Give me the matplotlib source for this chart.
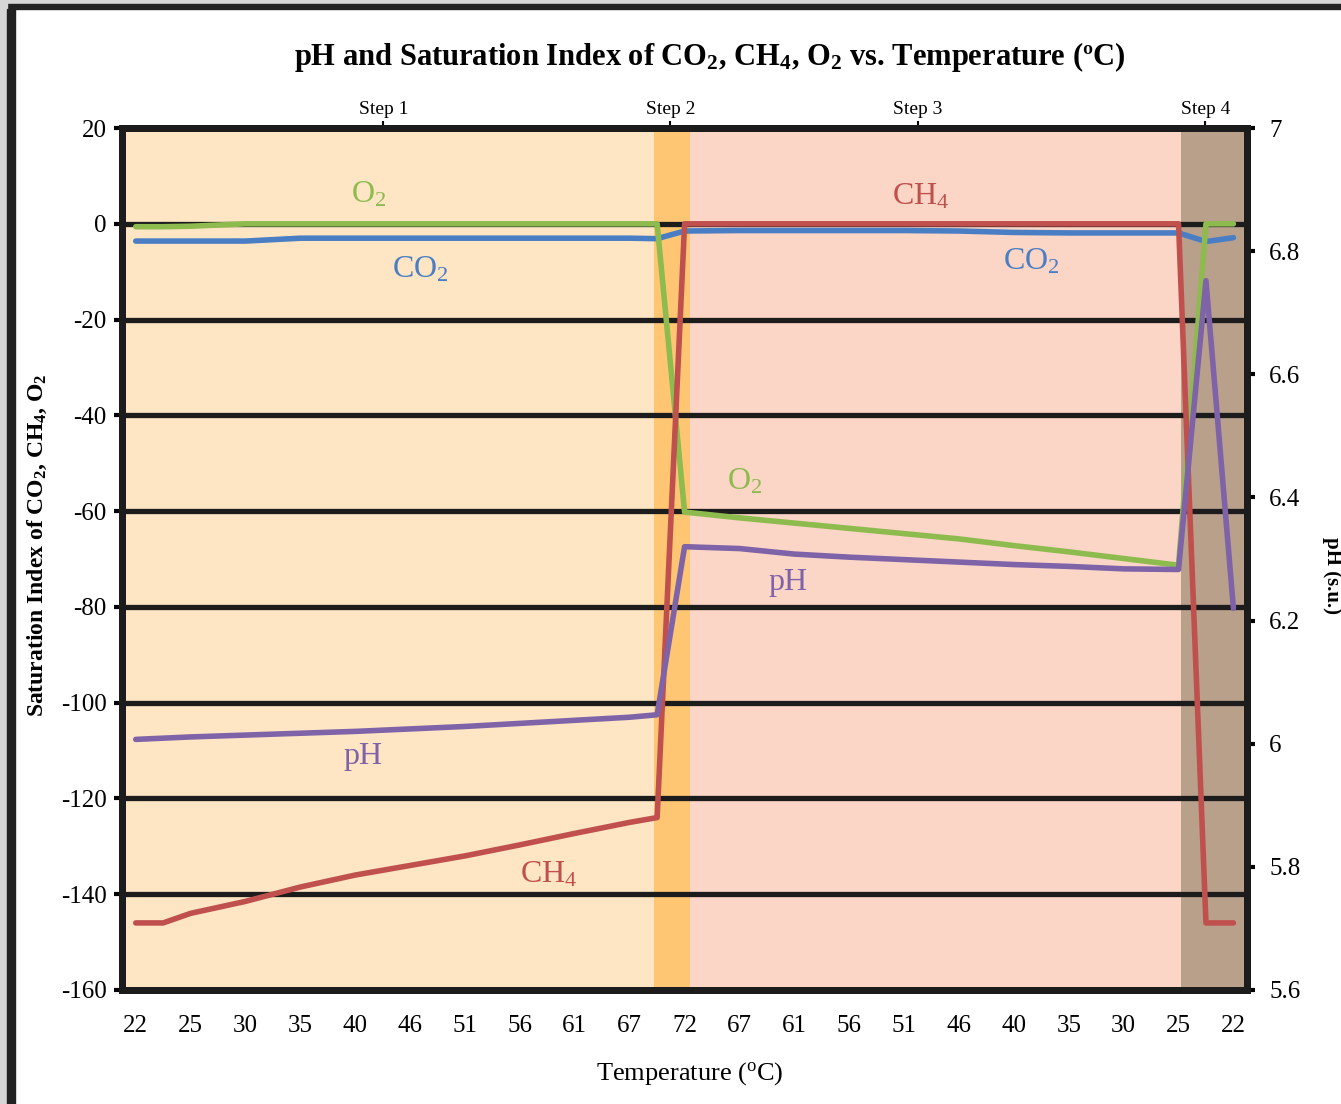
import matplotlib
matplotlib.use("Agg")
import matplotlib.pyplot as plt
from matplotlib.patches import Rectangle

plt.rcParams['font.family'] = ['Liberation Serif', 'DejaVu Serif']
plt.rcParams['mathtext.default'] = 'regular'
plt.rcParams['axes.unicode_minus'] = False

# x positions in units of the temperature tick index (ticks at 0..20)
temp_labels = ['22', '25', '30', '35', '40', '46', '51', '56', '61', '67', '72',
               '67', '61', '56', '51', '46', '40', '35', '30', '25', '22']
x_pts = [0, 0.5, 1, 2, 3, 4, 5, 6, 7, 8, 9, 9.5,
         10, 11, 12, 13, 14, 15, 16, 17, 18, 19, 19.5, 20]

# saturation index series
ch4 = [-146, -146, -144, -141.5, -138.5, -136, -134, -132, -129.7, -127.3, -125, -124,
       0, 0, 0, 0, 0, 0, 0, 0, 0, 0, -146, -146]
co2 = [-3.6, -3.6, -3.6, -3.6, -3.0, -3.0, -3.0, -3.0, -3.0, -3.0, -3.0, -3.1,
       -1.5, -1.4, -1.4, -1.4, -1.4, -1.5, -1.8, -1.9, -1.9, -1.9, -3.7, -2.9]
o2 = [-0.6, -0.6, -0.5, 0, 0, 0, 0, 0, 0, 0, 0, 0,
      -60.2, -61.4, -62.5, -63.6, -64.7, -65.8, -67.2, -68.5, -69.9, -71.3, 0, 0]
# pH (right axis)
ph = [6.007, 6.009, 6.011, 6.014, 6.017, 6.020, 6.024, 6.028, 6.033, 6.038, 6.043, 6.047,
      6.320, 6.317, 6.308, 6.303, 6.299, 6.295, 6.291, 6.288, 6.284, 6.283, 6.752, 6.22]

# step regions (start, end) and label positions
step_names = ['Step 1', 'Step 2', 'Step 3', 'Step 4']
step_edges = [(-0.25, 9.45), (9.45, 10.1), (10.1, 19.05), (19.05, 20.25)]
step_label_x = [4.51, 9.74, 14.25, 19.49]
step_colors = ['#FEE5C4', '#FEC673', '#FBD5C5', '#B8A08A']

c_co2 = '#4A7EC4'
c_ch4 = '#C0504D'
c_o2 = '#8DBB4E'
c_ph = '#7F63A8'

fig = plt.figure(figsize=(13.41, 11.04), dpi=100)

# screenshot frame
fig.add_artist(Rectangle((0, 0.9955), 1, 0.0045, transform=fig.transFigure, color='#D6D6D6', zorder=0))
fig.add_artist(Rectangle((0, 0.9915), 1, 0.0045, transform=fig.transFigure, color='#222222', zorder=0))
fig.add_artist(Rectangle((0, 0), 0.005, 1, transform=fig.transFigure, color='#D6D6D6', zorder=0))
fig.add_artist(Rectangle((0.005, 0), 0.006, 0.9915, transform=fig.transFigure, color='#222222', zorder=0))

ax = fig.add_axes([0.091, 0.1033, 0.839, 0.7807])
ax.set_xlim(-0.25, 20.25)
ax.set_ylim(-160, 20)

for (x0, x1), col in zip(step_edges, step_colors):
    ax.axvspan(x0, x1, color=col, zorder=0, lw=0)

for yv in range(-140, 20, 20):
    ax.axhline(yv, color='#1C1C1C', lw=3.8, zorder=1)

ax.plot(x_pts, co2, color=c_co2, lw=4, zorder=3, solid_capstyle='round')
ax.plot(x_pts, o2, color=c_o2, lw=4, zorder=3, solid_capstyle='round')
ax.plot(x_pts, ch4, color=c_ch4, lw=4, zorder=4, solid_capstyle='round')

ax.set_yticks(range(-160, 21, 20))
ax.set_xticks(range(len(temp_labels)))
ax.set_xticklabels(temp_labels)
ax.tick_params(axis='y', labelsize=18, length=6, width=3, pad=5)
ax.tick_params(axis='x', labelsize=18, length=0, pad=18)
for s in ax.spines.values():
    s.set_linewidth(5)
    s.set_color('#1C1C1C')

ax2 = ax.twinx()
ax2.set_ylim(5.6, 7.0)
ax2.plot(x_pts, ph, color=c_ph, lw=4, zorder=3, solid_capstyle='round')
ax2.set_yticks([5.6, 5.8, 6.0, 6.2, 6.4, 6.6, 6.8, 7.0])
ax2.set_yticklabels(['5.6', '5.8', '6', '6.2', '6.4', '6.6', '6.8', '7'])
ax2.tick_params(axis='y', labelsize=18, length=6, width=3, pad=10)
for s in ax2.spines.values():
    s.set_linewidth(5)
    s.set_color('#1C1C1C')

sec = ax.secondary_xaxis('top')
sec.set_xticks(step_label_x)
sec.set_xticklabels(step_names)
sec.tick_params(labelsize=14, length=5, width=1.5, pad=2)
sec.spines['top'].set_visible(False)

# series labels
ax.text(4.24, 6.0, 'O$_2$', color=c_o2, fontsize=23, ha='center', va='center', zorder=5)
ax.text(5.19, -9.6, 'CO$_2$', color=c_co2, fontsize=23, ha='center', va='center', zorder=5)
ax.text(14.3, 5.6, 'CH$_4$', color=c_ch4, fontsize=23, ha='center', va='center', zorder=5)
ax.text(16.32, -8.0, 'CO$_2$', color=c_co2, fontsize=23, ha='center', va='center', zorder=5)
ax.text(11.1, -53.9, 'O$_2$', color=c_o2, fontsize=23, ha='center', va='center', zorder=5)
ax.text(11.88, -75.0, 'pH', color=c_ph, fontsize=23, ha='center', va='center', zorder=5)
ax.text(4.15, -111.3, 'pH', color=c_ph, fontsize=23, ha='center', va='center', zorder=5)
ax.text(7.52, -136.0, 'CH$_4$', color=c_ch4, fontsize=23, ha='center', va='center', zorder=5)

fig.text(0.5295, 0.948, 'pH and Saturation Index of CO$_2$, CH$_4$, O$_2$ vs. Temperature (ºC)',
         fontsize=22, fontweight='bold', ha='center', va='center')
fig.text(0.5145, 0.028, 'Temperature ($^o$C)', fontsize=19, ha='center', va='center')
fig.text(0.028, 0.506, 'Saturation Index of CO$_2$, CH$_4$, O$_2$', fontsize=17,
         fontweight='bold', rotation=90, ha='center', va='center')
fig.text(0.993, 0.479, 'pH (s.u.)', fontsize=15, fontweight='bold', rotation=270,
         ha='center', va='center')

fig.savefig('out.png', dpi=100)
